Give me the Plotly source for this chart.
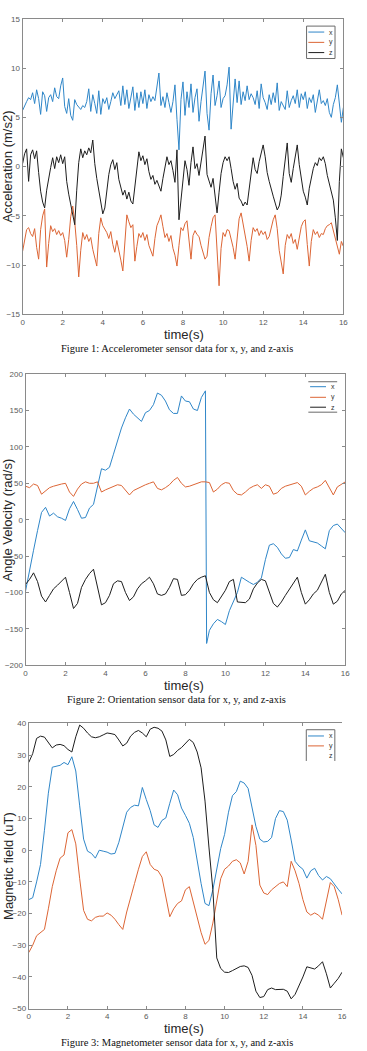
import plotly.graph_objects as go

# ---------------- data ----------------
t_acc = [round(0.1 * i, 1) for i in range(161)]
acc_x = [5.7, 6.2, 6.6, 7.0, 6.8, 7.5, 6.4, 7.8, 6.9, 5.3,
         7.6, 7.2, 5.6, 7.0, 7.3, 6.6, 8.0, 7.1, 6.9, 8.2,
         9.0, 6.1, 5.4, 6.9, 5.2, 4.7, 6.8, 6.3, 6.0, 5.8,
         6.2, 6.0, 6.6, 7.9, 5.6, 7.3, 6.4, 5.4, 7.7, 5.3,
         6.9, 6.4, 7.0, 5.8, 6.6, 7.5, 6.9, 7.3, 7.7, 6.2,
         8.2, 6.3, 7.8, 5.9, 7.0, 8.1, 5.7, 7.5, 6.0, 7.6,
         6.4, 7.8, 5.9, 7.3, 6.6, 7.1, 6.7, 8.0, 9.5, 6.2,
         7.1, 6.0, 7.5, 6.5, 5.5, 6.6, 8.3, 4.8, 1.7, 6.8,
         8.6, 5.2, 7.6, 6.0, 8.4, 5.5, 7.0, 7.9, 4.6, 6.6,
         8.1, 9.7, 5.4, 3.7, 7.4, 9.3, 6.2, 7.2, 8.7, 6.0,
         6.9, 7.2, 8.3, 10.1, 3.8, 6.4, 8.9, 6.5, 8.7, 6.3,
         7.6, 6.7, 8.2, 6.8, 7.4, 7.0, 6.3, 7.7, 5.9, 8.4,
         7.0, 6.5, 5.8, 7.3, 6.3, 7.5, 6.5, 8.5, 5.7, 6.6,
         6.2, 5.8, 7.7, 6.0, 6.7, 7.2, 6.4, 7.8, 6.0, 7.4,
         6.8, 7.6, 5.9, 7.0, 6.5, 7.3, 5.5, 6.9, 7.8, 6.4,
         6.7, 6.2, 6.9, 5.5, 5.0, 6.3, 7.0, 8.3, 6.6, 4.5,
         6.0]
acc_y = [-8.6, -7.6, -6.4, -6.2, -6.8, -7.1, -6.3, -8.2, -9.4, -6.4,
         -5.0, -4.3, -10.2, -7.8, -6.0, -6.6, -6.3, -6.9, -6.5, -7.0,
         -6.7, -7.5, -9.2, -7.4, -5.1, -4.0, -5.6, -8.0, -11.2, -8.5,
         -6.7, -7.4, -6.9, -7.6, -7.2, -8.4, -9.2, -10.1, -6.8, -5.2,
         -6.0, -6.4, -6.7, -7.3, -6.6, -7.9, -8.7, -7.5, -8.4, -9.5,
         -10.6, -7.8, -4.9, -5.6, -6.2, -5.9, -9.6, -8.1, -6.8, -7.2,
         -6.7, -7.5, -6.9, -8.0, -8.6, -9.1, -7.3, -6.0, -5.5, -4.9,
         -6.1, -7.2, -6.8, -7.6, -7.0, -8.3, -9.0, -10.1, -8.0, -6.2,
         -6.5, -5.8, -5.5, -7.3, -9.4, -7.0, -6.5, -6.9, -7.1, -8.0,
         -8.8, -9.4, -9.1, -7.2, -6.1, -5.2, -4.9, -8.5, -12.1, -8.3,
         -6.7, -7.1, -6.4, -6.5, -7.3, -8.2, -9.4, -7.0, -5.3, -4.7,
         -5.8, -6.6, -8.1, -9.6, -7.5, -6.2, -6.6, -6.3, -7.0, -6.5,
         -6.9, -6.6, -7.4, -7.1, -6.2, -5.4, -4.9, -6.3, -8.5, -9.7,
         -10.9, -8.0, -6.9, -7.3, -6.8, -7.8, -7.4, -8.4, -7.2, -6.1,
         -5.6, -5.4, -7.9, -10.1, -7.6, -6.4, -6.9, -6.6, -7.2, -6.8,
         -6.9, -6.3, -6.0, -5.9, -5.7, -6.5, -7.1, -8.0, -8.9, -7.6,
         -8.1]
acc_z = [0.3, 1.3, 1.8, -1.5, 1.2, 1.7, 0.8, 1.6, -0.6, -2.5,
         -3.6, -4.2, -2.4, -1.0, -0.1, 0.9, -0.2, 1.0, 0.4, 1.2,
         0.3, 1.0, -1.5, -2.8, -3.9, -4.6, -5.9, -2.4, 0.4, 1.8,
         0.9, 1.6, 1.2, 1.9, 1.4, 2.7, 0.3, -1.2, -2.3, -3.6,
         -4.8, -4.2, -2.5, -0.8, 0.2, 0.7, -0.3, 0.4, -1.3, -2.0,
         -2.9, -2.4, -3.3, -2.6, -3.5, -3.8, -1.9, 0.2, 1.5, 0.6,
         1.1, 0.2, 0.8, -0.5, -1.3, -0.9, -1.8, -1.4, -2.0, -2.5,
         -1.2, -0.2, 1.0, 0.2, 0.6, -0.4, -1.6, 1.7, -5.4, -3.4,
         -1.0, 0.6, -0.3, -1.9, 0.4, 2.0, -0.2, 0.3, -0.9, 0.5,
         1.5, 3.1, -0.8, -1.4, -2.1, -1.2, -3.1, -4.7, -2.6, -0.7,
         0.4, 1.0, 0.6, 1.0, -0.2, -1.5, -2.3, -1.7, -3.2, -3.5,
         -4.0, -3.6, -3.9, -2.3, -0.5, 0.9, -0.3, -0.7, 0.5, 1.3,
         2.2, 1.0, -0.6, -1.5, -2.4, -3.0, -3.7, -4.4, -4.0, -2.9,
         -1.0, 0.8, 2.4, -0.7, -1.6, -0.2, 1.1, 2.2, 0.2, -1.3,
         -2.5, -3.1, -3.9, -2.2, -1.0, -0.2, 0.4, 0.1, 0.9, 0.6,
         1.0, 0.3, -0.9, -1.8, -2.6, -3.4, -5.2, -7.5, -1.5, 1.8,
         0.9]

t_ori = [round(0.2 * i, 1) for i in range(81)]
t_ori_x = t_ori[:46] + [9.06] + t_ori[46:]
ori_x = [-98, -72, -42, -15, 10, 17, 5, 9, 4, 2,
         -1, 15, 25, 14, 2, 3, 16, 21, 45, 70,
         68, 72, 90, 108, 126, 140, 152, 145, 140, 135,
         147, 150, 158, 174, 171, 163, 151, 146, 146, 170,
         163, 162, 152, 150, 168, 177, -170,
         -152, -143, -137, -140,
         -144, -125, -113, -100, -79, -83, -86, -89, -86, -80,
         -55, -35, -33, -38, -47, -53, -52, -41, -43, -28,
         -14, -29, -31, -32, -36, -40, -15, -8, -6, -12,
         -18]
ori_y = [46, 44, 49, 47, 35, 40, 44, 46, 48, 49,
         50, 38, 32, 42, 49, 52, 50, 50, 52, 38,
         41, 43, 46, 48, 47, 40, 34, 40, 43, 46,
         48, 50, 52, 43, 41, 44, 48, 54, 58, 50,
         45, 46, 48, 50, 52, 52, 51, 38, 42, 48,
         51, 50, 40, 35, 34, 38, 43, 46, 48, 43,
         48, 46, 35, 37, 43, 46, 48, 49, 51, 46,
         34, 39, 43, 45, 48, 54, 43, 34, 45, 49,
         52]
ori_z = [-89, -82, -73, -85, -105, -113, -104, -95, -90, -84,
         -79, -100, -122, -115, -93, -82, -74, -68, -95, -117,
         -114, -104, -88, -84, -85, -100, -111, -106, -95, -88,
         -84, -79, -88, -102, -104, -102, -93, -81, -82, -104,
         -103, -97, -88, -82, -79, -77, -100, -110, -114, -106,
         -97, -85, -82, -113, -114, -114, -109, -95, -87, -82,
         -84, -100, -115, -120, -113, -104, -95, -86, -79, -100,
         -116, -110, -102, -97, -87, -75, -100, -116, -112, -102,
         -97]

t_mag = [round(0.2 * i, 1) for i in range(81)]
mag_x = [-15.6, -15.0, -10.0, -4.5, 6.3, 18.0, 26.2, 26.5, 26.8, 27.7,
         27.0, 29.5, 25.0, 14.0, 3.5, -0.3, -1.0, -2.5, 0.0, -0.3,
         -0.6, -1.2, -1.0, 2.5, 7.3, 12.0, 13.5, 14.2, 14.0, 19.8,
         16.0, 12.5, 8.0, 7.2, 9.4, 10.2, 14.8, 19.0, 17.5, 13.3,
         11.0, 8.5, 4.0, -4.0, -10.5, -16.8, -17.5, -12.5, -6.5, 0.5,
         5.0, 12.0, 17.2, 18.5, 21.8, 21.2, 19.5, 13.0, 7.5, 3.5,
         2.6, 2.8, 4.0, 10.0, 12.5, 12.2, 9.5, 3.2, -3.5, -5.0,
         -6.0, -8.8, -6.5, -5.7, -8.0, -9.4, -8.3, -9.0, -10.8, -12.3,
         -13.8]
mag_y = [-32.3, -30.0, -27.0, -26.0, -25.0, -18.5, -11.5, -6.5, -2.5, -1.5,
         5.5, 6.5, 2.0, -9.0, -19.0, -21.8, -22.3, -21.2, -20.8, -20.8,
         -19.8, -20.5, -21.8, -23.5, -25.0, -19.5, -14.5, -10.5, -6.0, -2.0,
         -0.5, -4.5, -6.0, -6.5, -8.5, -14.8, -21.0, -18.5, -16.8, -16.0,
         -12.5, -11.5, -16.5, -21.5, -26.0, -29.7, -28.5, -23.0, -16.0, -9.0,
         -6.0, -5.0, -3.5, -3.0, -4.0, -7.5, -3.5, 8.0, 1.5, -11.0,
         -13.5, -14.0, -12.5, -11.5, -10.5, -10.0, -11.5, -3.5, -6.5, -10.5,
         -15.6, -19.5, -20.5, -19.8, -20.5, -21.8, -16.0, -10.2, -11.5, -15.5,
         -20.5]
mag_z = [27.7, 30.5, 35.3, 36.0, 35.7, 33.8, 32.3, 33.2, 33.4, 33.0,
         31.8, 31.0, 35.8, 39.5, 38.5, 37.0, 35.8, 35.5, 35.8, 36.4,
         37.0, 36.8, 36.5, 34.8, 32.9, 33.8, 36.0, 37.2, 37.8, 37.0,
         35.8, 38.2, 38.8, 38.5, 37.6, 34.8, 29.6, 30.2, 31.5, 32.4,
         33.6, 35.0, 34.0, 31.0, 26.0, 15.5, 1.0, -12.4, -34.0, -37.3,
         -38.5, -38.6, -38.0, -37.4, -36.7, -36.5, -37.0, -39.5, -44.5, -46.5,
         -46.2, -44.0, -43.5, -44.0, -44.0, -43.9, -44.5, -46.9, -45.5, -43.0,
         -40.0, -36.8, -37.2, -37.5, -36.5, -35.2, -39.0, -43.5, -42.0, -40.5,
         -38.5]

series_names = ["x", "y", "z"]
colors = ["#2f86c8", "#dc6535", "#1e1e1e"]
y_titles = ["Acceleration (m/s2)", "Angle Velocity (rad/s)", "Magnetic field (uT)"]
captions = ["Figure 1: Accelerometer sensor data for x, y, and z-axis",
            "Figure 2: Orientation sensor data for x, y, and z-axis",
            "Figure 3: Magnetometer sensor data for x, y, and z-axis"]
y_ranges = [[-15, 15], [-200, 200], [-50, 40]]
y_dticks = [5, 50, 10]

# ---------------- layout helpers ----------------
W, H = 367, 1051
def px(x):
    return x / W
def py(y):
    return 1 - y / H

# plot-area boxes in pixels (left, right, top, bottom)
boxes = [(21, 348, 15, 313), (24, 350, 373.3, 667), (27.3, 346.7, 725.7, 1013.3)]

fig = go.Figure()
panel_data = [
    [(t_acc, acc_x), (t_acc, acc_y), (t_acc, acc_z)],
    [(t_ori_x, ori_x), (t_ori, ori_y), (t_ori, ori_z)],
    [(t_mag, mag_x), (t_mag, mag_y), (t_mag, mag_z)],
]
for p, series in enumerate(panel_data):
    xa = "x" if p == 0 else f"x{p + 1}"
    ya = "y" if p == 0 else f"y{p + 1}"
    for (tt, vv), name, col in zip(series, series_names, colors):
        fig.add_trace(go.Scatter(x=tt, y=vv, mode="lines", name=name,
                                 line=dict(color=col, width=1),
                                 xaxis=xa, yaxis=ya, showlegend=False))

axcol = "#8a8a8a"
tickfont = dict(family="Liberation Sans, Arial", size=8, color="#5a5a5a")
common = dict(showline=True, linecolor=axcol, linewidth=1, ticks="inside",
              ticklen=3, tickcolor=axcol, tickwidth=1, showgrid=False,
              zeroline=False, tickfont=tickfont, fixedrange=True)

layout = dict(width=W, height=H, margin=dict(l=0, r=0, t=0, b=0),
              paper_bgcolor="white", plot_bgcolor="white", showlegend=False)
for p, (l, r, t, b) in enumerate(boxes):
    sx = "" if p == 0 else str(p + 1)
    layout["xaxis" + sx] = dict(common, domain=[px(l), px(r)], range=[0, 16],
                                dtick=2, tick0=0, mirror="ticks",
                                anchor="y" + sx)
    ymirror = "ticks" if p < 2 else False
    layout["yaxis" + sx] = dict(common, domain=[py(b), py(t)], range=y_ranges[p],
                                dtick=y_dticks[p], tick0=0, mirror=ymirror,
                                anchor="x" + sx)
# right-hand ticks without a spine for panel 3
layout["yaxis4"] = dict(overlaying="y3", side="right", anchor="x3",
                        range=y_ranges[2], dtick=10, tick0=0, showline=False,
                        ticks="inside", ticklen=3, tickcolor=axcol,
                        showticklabels=False, showgrid=False, zeroline=False,
                        fixedrange=True)
fig.update_layout(**layout)

shapes = []
annotations = []
for p, (l, r, t, b) in enumerate(boxes):
    cy = (t + b) / 2
    annotations.append(dict(text=y_titles[p], x=px(6), y=py(cy), xref="paper",
                            yref="paper", textangle=-90, showarrow=False,
                            xanchor="center", yanchor="middle",
                            font=dict(family="Liberation Sans, Arial", size=13,
                                      color="#262626")))
    annotations.append(dict(text="time(s)", x=px(186), y=py(b + 20.5),
                            xref="paper", yref="paper", showarrow=False,
                            xanchor="center", yanchor="middle",
                            font=dict(family="Liberation Sans, Arial", size=13,
                                      color="#262626")))
    annotations.append(dict(text=captions[p], x=px(178), y=py(b + 34.5),
                            xref="paper", yref="paper", showarrow=False,
                            xanchor="center", yanchor="middle",
                            font=dict(family="Liberation Serif, Times New Roman",
                                      size=10.5, color="#111")))

# legends (drawn by hand, small MATLAB style)
leg_specs = [
    dict(x0=310.5, x1=339.5, top=22.3, bottom=55, rows=[28.3, 38.7, 49],
         sides="box", draw_lines=[True, True, True]),
    dict(x0=312.3, x1=341.7, top=381, bottom=411.7, rows=[386, 396.7, 406.7],
         sides="tb", draw_lines=[True, True, True]),
    dict(x0=310.2, x1=339.3, top=732, bottom=763.5, rows=[738.3, 748.3, 758.3],
         sides="ltr", draw_lines=[True, True, False]),
]
lg_col = "#6a6a6a"
for spec in leg_specs:
    x0, x1, tp, bt = spec["x0"], spec["x1"], spec["top"], spec["bottom"]
    segs = []
    if spec["sides"] == "box":
        segs = [(x0, tp, x1, tp), (x0, bt, x1, bt), (x0, tp, x0, bt), (x1, tp, x1, bt)]
    elif spec["sides"] == "tb":
        segs = [(x0, tp, x1, tp), (x0, bt, x1, bt)]
    else:
        segs = [(x0, tp, x1, tp), (x0, tp, x0, bt), (x1, tp, x1, bt)]
    for (a, b_, c, d) in segs:
        shapes.append(dict(type="line", xref="paper", yref="paper",
                           x0=px(a), y0=py(b_), x1=px(c), y1=py(d),
                           line=dict(color=lg_col, width=1)))
    for ry, name, col, dl in zip(spec["rows"], series_names, colors, spec["draw_lines"]):
        if dl:
            shapes.append(dict(type="line", xref="paper", yref="paper",
                               x0=px(x0 + 1.8), y0=py(ry), x1=px(x0 + 18),
                               y1=py(ry), line=dict(color=col, width=1)))
        annotations.append(dict(text=name, x=px(x0 + 21), y=py(ry), xref="paper",
                                yref="paper", showarrow=False, xanchor="left",
                                yanchor="middle",
                                font=dict(family="Liberation Sans, Arial", size=7,
                                          color="#333")))

fig.update_layout(shapes=shapes, annotations=annotations)
fig.write_html("out.html")
